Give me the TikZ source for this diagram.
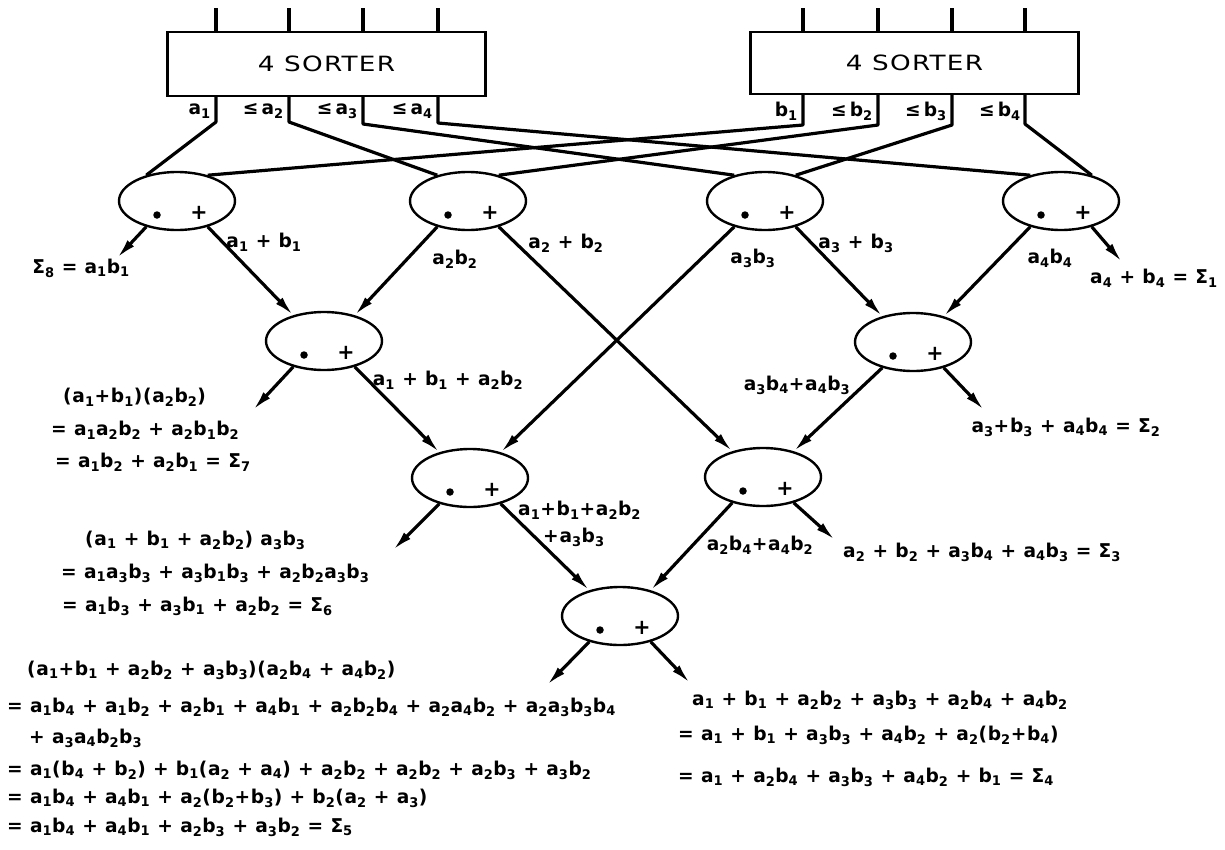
\documentclass[tikz,border=0pt]{standalone}
\usepackage{fontspec}
\setmainfont{DejaVu Sans}[FakeStretch=0.98,LetterSpace=4]
\newfontfamily\sorterfont{DejaVu Sans}[FakeStretch=1.25,LetterSpace=6]
\usetikzlibrary{arrows.meta,shapes.geometric,calc}
\newcommand\va[1]{a\textsubscript{#1}}
\newcommand\vb[1]{b\textsubscript{#1}}
\newcommand\sg[1]{Σ\textsubscript{#1}}
\begin{document}
\begin{tikzpicture}[x=1pt,y=-1pt,
  op/.style={ellipse,draw,line width=2.4pt,minimum width=116pt,minimum height=58pt,inner sep=0pt},
  sorter/.style={draw,line width=2.4pt,inner sep=0pt,font=\sorterfont\fontsize{21}{24}\selectfont},
  wire/.style={line width=3.2pt,line join=round},
  arr/.style={line width=3.2pt,-{Latex[length=20pt,width=9pt]}},
  lab/.style={inner sep=0pt,font=\fontsize{19}{22}\selectfont\bfseries},
  dotsym/.style={circle,fill,inner sep=0pt,minimum size=7.5pt},
  plussym/.style={inner sep=0pt,font=\fontsize{21}{22}\selectfont\bfseries}
]
\fill[white] (0,0) rectangle (1225,849);
\useasboundingbox (0,0) rectangle (1225,849);

% sorters
\node[sorter,minimum width=318pt,minimum height=64pt] (LS) at (326.5,64) {4 SORTER};
\node[sorter,minimum width=328pt,minimum height=62pt] (RS) at (914.5,63) {4 SORTER};

% operation ellipses
\node[op] (E1) at (177,201) {};
\node[op] (E2) at (468,201) {};
\node[op] (E3) at (765,201) {};
\node[op] (E4) at (1061,201) {};
\node[op] (L1) at (324,341) {};
\node[op] (R1) at (913,342) {};
\node[op] (L2) at (470,478) {};
\node[op] (R2) at (763,477) {};
\node[op] (B) at (620,616) {};
\foreach \n in {E1,E2,E3,E4,L1,R1,L2,R2,B}{
  \node[dotsym] (\n-d) at ($(\n)+(-20,14)$) {};
  \node[plussym] (\n-p) at ($(\n)+(22,12)$) {+};
}

% input ticks
\foreach \x [count=\i] in {216,289,363,438}{
  \coordinate (lt\i) at (\x,8);
  \draw[wire] (lt\i) -- (lt\i |- LS.north);
}
\foreach \x [count=\i] in {803,878,952,1025}{
  \coordinate (rt\i) at (\x,8);
  \draw[wire] (rt\i) -- (rt\i |- RS.north);
}

% sorter outputs
\coordinate (ab1) at (216,122);
\coordinate (ab2) at (289,122);
\coordinate (ab3) at (363,124);
\coordinate (ab4) at (438,123);
\coordinate (bb1) at (803,125);
\coordinate (bb2) at (878,125);
\coordinate (bb3) at (952,125);
\coordinate (bb4) at (1025,124);
\draw[wire] (LS.south -| ab1) -- (ab1) -- (E1.140);
\draw[wire] (LS.south -| ab2) -- (ab2) -- (E2.140);
\draw[wire] (LS.south -| ab3) -- (ab3) -- (E3.140);
\draw[wire] (LS.south -| ab4) -- (ab4) -- (E4.140);
\draw[wire] (RS.south -| bb1) -- (bb1) -- (E1.40);
\draw[wire] (RS.south -| bb2) -- (bb2) -- (E2.40);
\draw[wire] (RS.south -| bb3) -- (bb3) -- (E3.40);
\draw[wire] (RS.south -| bb4) -- (bb4) -- (E4.40);

\node[lab,anchor=east] (la1) at (211,111) {\va{1}};
\node[lab,anchor=east] (la2) at (284,111) {≤\,\va{2}};
\node[lab,anchor=east] (la3) at (358,111) {≤\,\va{3}};
\node[lab,anchor=east] (la4) at (433,111) {≤\,\va{4}};
\node[lab,anchor=east] (lb1) at (798,111) {\vb{1}};
\node[lab,anchor=east] (lb2) at (873,111) {≤\,\vb{2}};
\node[lab,anchor=east] (lb3) at (947,111) {≤\,\vb{3}};
\node[lab,anchor=east] (lb4) at (1021,111) {≤\,\vb{4}};

% connections between ellipses
\draw[arr] (E1.320) -- (L1.140);
\draw[arr] (E2.220) -- (L1.40);
\draw[arr] (E2.320) -- (R2.140);
\draw[arr] (E3.220) -- (L2.40);
\draw[arr] (E3.320) -- (R1.140);
\draw[arr] (E4.220) -- (R1.40);
\draw[arr] (L1.320) -- (L2.140);
\draw[arr] (R1.220) -- (R2.40);
\draw[arr] (L2.320) -- (B.140);
\draw[arr] (R2.220) -- (B.40);

% result arrows
\coordinate (o8) at (117,258);
\coordinate (o1) at (1122,262);
\coordinate (o7) at (253,410);
\coordinate (o2) at (984,410);
\coordinate (o6) at (393,550);
\coordinate (o3) at (835,540);
\coordinate (o5) at (547,685);
\coordinate (o4) at (690,683);
\draw[arr] (E1.220) -- (o8);
\draw[arr] (E4.320) -- (o1);
\draw[arr] (L1.220) -- (o7);
\draw[arr] (R1.320) -- (o2);
\draw[arr] (L2.220) -- (o6);
\draw[arr] (R2.320) -- (o3);
\draw[arr] (B.220) -- (o5);
\draw[arr] (B.320) -- (o4);

% edge labels
\node[lab] (t1) at (264,242) {\va{1} + \vb{1}};
\node[lab] (t2) at (455,259) {\va{2}\vb{2}};
\node[lab] (t3) at (566,243) {\va{2} + \vb{2}};
\node[lab] (t4) at (753,258) {\va{3}\vb{3}};
\node[lab] (t5) at (856,243) {\va{3} + \vb{3}};
\node[lab] (t6) at (1050,258) {\va{4}\vb{4}};
\node[lab,anchor=west] (t7) at (1090,278) {\va{4} + \vb{4} = \sg{1}};
\node[lab] (t8) at (81,268) {\sg{8} = \va{1}\vb{1}};
\node[lab] (t9) at (448,380) {\va{1} + \vb{1} + \va{2}\vb{2}};
\node[lab] (t10) at (797,385) {\va{3}\vb{4}+\va{4}\vb{3}};
\node[lab] (t11) at (1066,427) {\va{3}+\vb{3} + \va{4}\vb{4} = \sg{2}};
\node[lab,anchor=west] (t12) at (518,510) {\va{1}+\vb{1}+\va{2}\vb{2}};
\node[lab,anchor=west] (t13) at (543,537) {+\va{3}\vb{3}};
\node[lab] (t14) at (760,545) {\va{2}\vb{4}+\va{4}\vb{2}};
\node[lab,anchor=west] (t15) at (843,552) {\va{2} + \vb{2} + \va{3}\vb{4} + \va{4}\vb{3} = \sg{3}};

% left result blocks
\node[lab,anchor=west] (s7a) at (63,397) {(\va{1}+\vb{1})(\va{2}\vb{2})};
\node[lab,anchor=west] (s7b) at (51,430) {= \va{1}\va{2}\vb{2} + \va{2}\vb{1}\vb{2}};
\node[lab,anchor=west] (s7c) at (55,462) {= \va{1}\vb{2} + \va{2}\vb{1} = \sg{7}};
\node[lab,anchor=west] (s6a) at (85,540) {(\va{1} + \vb{1} + \va{2}\vb{2}) \va{3}\vb{3}};
\node[lab,anchor=west] (s6b) at (61,573) {= \va{1}\va{3}\vb{3} + \va{3}\vb{1}\vb{3} + \va{2}\vb{2}\va{3}\vb{3}};
\node[lab,anchor=west] (s6c) at (62,606) {= \va{1}\vb{3} + \va{3}\vb{1} + \va{2}\vb{2} = \sg{6}};
\node[lab,anchor=west] (s5a) at (27,670) {(\va{1}+\vb{1} + \va{2}\vb{2} + \va{3}\vb{3})(\va{2}\vb{4} + \va{4}\vb{2})};
\node[lab,anchor=west] (s5b) at (7,707) {= \va{1}\vb{4} + \va{1}\vb{2} + \va{2}\vb{1} + \va{4}\vb{1} + \va{2}\vb{2}\vb{4} + \va{2}\va{4}\vb{2} + \va{2}\va{3}\vb{3}\vb{4}};
\node[lab,anchor=west] (s5c) at (29,738) {+ \va{3}\va{4}\vb{2}\vb{3}};
\node[lab,anchor=west] (s5d) at (7,770) {= \va{1}(\vb{4} + \vb{2}) + \vb{1}(\va{2} + \va{4}) + \va{2}\vb{2} + \va{2}\vb{2} + \va{2}\vb{3} + \va{3}\vb{2}};
\node[lab,anchor=west] (s5e) at (7,798) {= \va{1}\vb{4} + \va{4}\vb{1} + \va{2}(\vb{2}+\vb{3}) + \vb{2}(\va{2} + \va{3})};
\node[lab,anchor=west] (s5f) at (7,827) {= \va{1}\vb{4} + \va{4}\vb{1} + \va{2}\vb{3} + \va{3}\vb{2} = \sg{5}};

% right result block
\node[lab,anchor=west] (s4a) at (692,700) {\va{1} + \vb{1} + \va{2}\vb{2} + \va{3}\vb{3} + \va{2}\vb{4} + \va{4}\vb{2}};
\node[lab,anchor=west] (s4b) at (678,735) {= \va{1} + \vb{1} + \va{3}\vb{3} + \va{4}\vb{2} + \va{2}(\vb{2}+\vb{4})};
\node[lab,anchor=west] (s4c) at (678,777) {= \va{1} + \va{2}\vb{4} + \va{3}\vb{3} + \va{4}\vb{2} + \vb{1} = \sg{4}};
\end{tikzpicture}
\end{document}
